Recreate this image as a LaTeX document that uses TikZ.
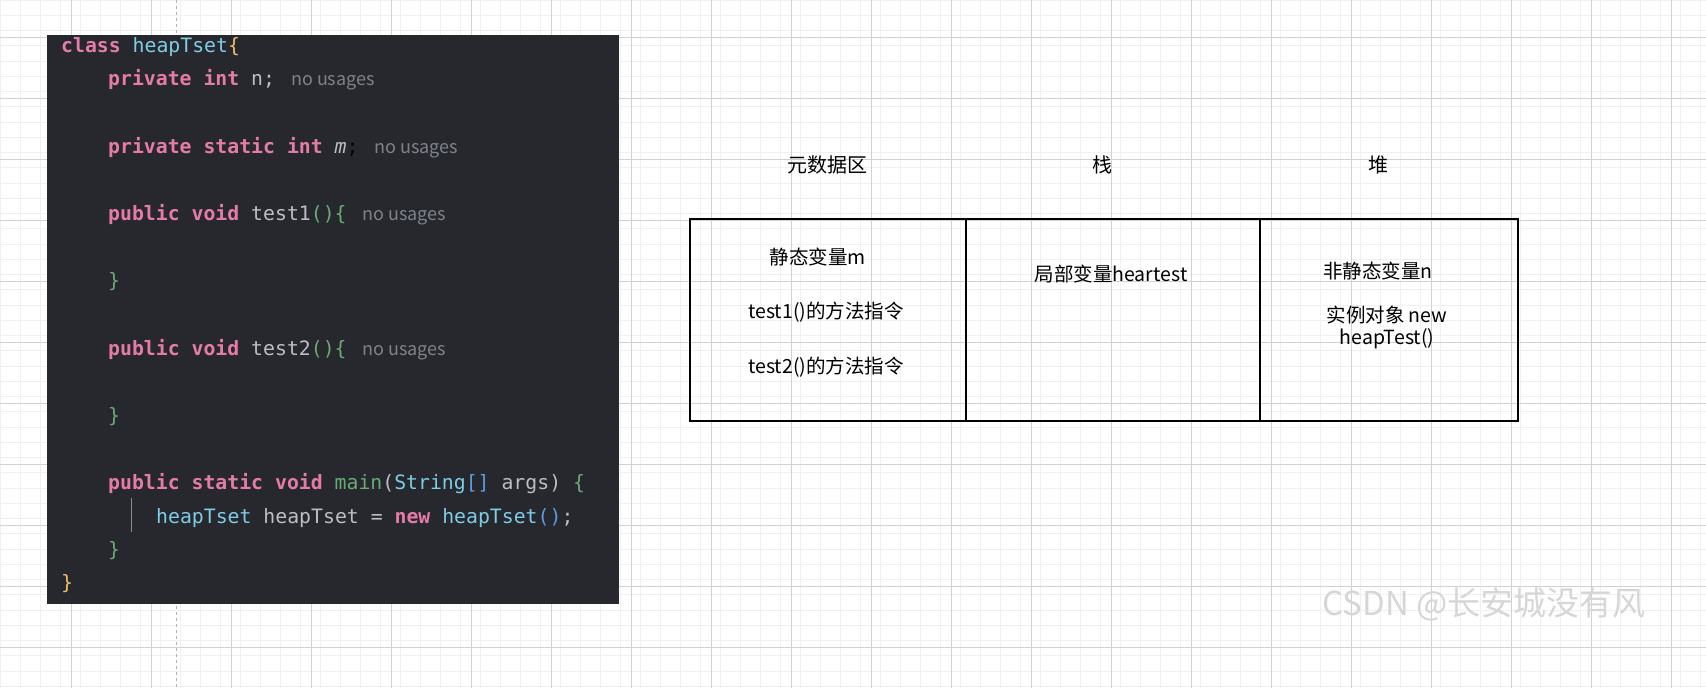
\documentclass[tikz,border=0pt]{standalone}
\usepackage{fontspec}
\setmainfont{Liberation Sans}
\newfontfamily\cjk{Noto Sans CJK SC}
\newfontfamily\codefont{DejaVu Sans Mono}
\usetikzlibrary{positioning}
\definecolor{panelbg}{HTML}{26282E}
\definecolor{kwpink}{HTML}{E57BA8}
\definecolor{clscyan}{HTML}{7FCCE6}
\definecolor{brcyel}{HTML}{E8BF6A}
\definecolor{brcgrn}{HTML}{6AAB73}
\definecolor{idgray}{HTML}{BCBEC4}
\definecolor{hintgray}{HTML}{7E828A}
\definecolor{sqblue}{HTML}{5B9BE0}
\newcommand{\kw}[1]{\textcolor{kwpink}{\bfseries #1}}
\newcommand{\cls}[1]{\textcolor{clscyan}{#1}}
\newcommand{\idt}[1]{\textcolor{idgray}{#1}}
\newcommand{\hint}[1]{\hspace{16pt}{\cjk\fontsize{18}{20}\selectfont\textcolor{hintgray}{#1}}}
\begin{document}
\begin{tikzpicture}
    [ x=1pt, y=-1pt
    , code/.style={anchor=base west, inner sep=0pt, font=\codefont\fontsize{19.8}{22}\selectfont}
    , head/.style={font=\cjk\fontsize{20}{24}\selectfont}
    , cell/.style={draw, line width=1.6pt, minimum height=202pt, inner sep=0pt}
    , txt/.style={font=\cjk\fontsize{19.5}{23}\selectfont, align=center}
    ]
\useasboundingbox (0,0) rectangle (1706,688);
% grid paper
\foreach \gx in {0,20,...,1700}
  \draw[black!6, line width=0.8pt] (\gx,0) -- (\gx,688);
\foreach \gy in {0,15.25,...,688}
  \draw[black!6, line width=0.8pt] (0,\gy) -- (1706,\gy);
\foreach \gx in {71,151,...,1700}
  \draw[black!18, line width=0.8pt] (\gx,0) -- (\gx,688);
\foreach \gy in {37,98,...,688}
  \draw[black!18, line width=0.8pt] (0,\gy) -- (1706,\gy);
\draw[black!30, dashed, line width=0.8pt] (176,0) -- (176,688);

% code panel
\fill[panelbg] (47,35) rectangle (619,604);
\draw[black!45, line width=0.8pt] (131,498) -- (131,532);
\node[code] (l1)  at (61,52)   {\kw{class} \cls{heapTset}\textcolor{brcyel}{\{}};
\node[code] (l2)  at (108,85)  {\kw{private} \kw{int} \idt{n;}\hint{no usages}};
\node[code] (l3)  at (108,153) {\kw{private} \kw{static} \kw{int} \idt{\itshape m};\hint{no usages}};
\node[code] (l4)  at (108,220) {\kw{public} \kw{void} \idt{test1}\textcolor{brcgrn}{()\{}\hint{no usages}};
\node[code] (l5)  at (108,287) {\textcolor{brcgrn}{\}}};
\node[code] (l6)  at (108,355) {\kw{public} \kw{void} \idt{test2}\textcolor{brcgrn}{()\{}\hint{no usages}};
\node[code] (l7)  at (108,422) {\textcolor{brcgrn}{\}}};
\node[code] (l8)  at (108,489) {\kw{public} \kw{static} \kw{void} \textcolor{brcgrn}{main}\idt{(}\cls{String}\textcolor{sqblue}{[]} \idt{args)} \textcolor{brcgrn}{\{}};
\node[code] (l9)  at (156,523) {\cls{heapTset} \idt{heapTset =} \kw{new} \cls{heapTset}\textcolor{sqblue}{()}\idt{;}};
\node[code] (l10) at (108,556) {\textcolor{brcgrn}{\}}};
\node[code] (l11) at (61,589)  {\textcolor{brcyel}{\}}};

% memory table
\node[cell, minimum width=276pt] (meta)  at (828,320)  {};
\node[cell, minimum width=294pt] (stack) at (1113,320) {};
\node[cell, minimum width=258pt] (heap)  at (1389,320) {};
\node[head] (hmeta)  at (827,165)  {元数据区};
\node[head] (hstack) at (1102,165) {栈};
\node[head] (hheap)  at (1378,165) {堆};
\node[txt] (sm)  at (818,257)  {静态变量m};
\node[txt] (t1)  at (826,312)  {test1()的方法指令};
\node[txt] (t2)  at (826,367)  {test2()的方法指令};
\node[txt] (loc) at (1111,274) {局部变量heartest};
\node[txt] (nn)  at (1378,271) {非静态变量n};
\node[txt, font=\cjk\fontsize{19.5}{22}\selectfont] (obj) at (1387,327) {实例对象 new\\heapTest()};
\node[font=\cjk\fontsize{33}{36}\selectfont, text=black!16] (wm) at (1484,604) {CSDN @长安城没有风};
\end{tikzpicture}
\end{document}
